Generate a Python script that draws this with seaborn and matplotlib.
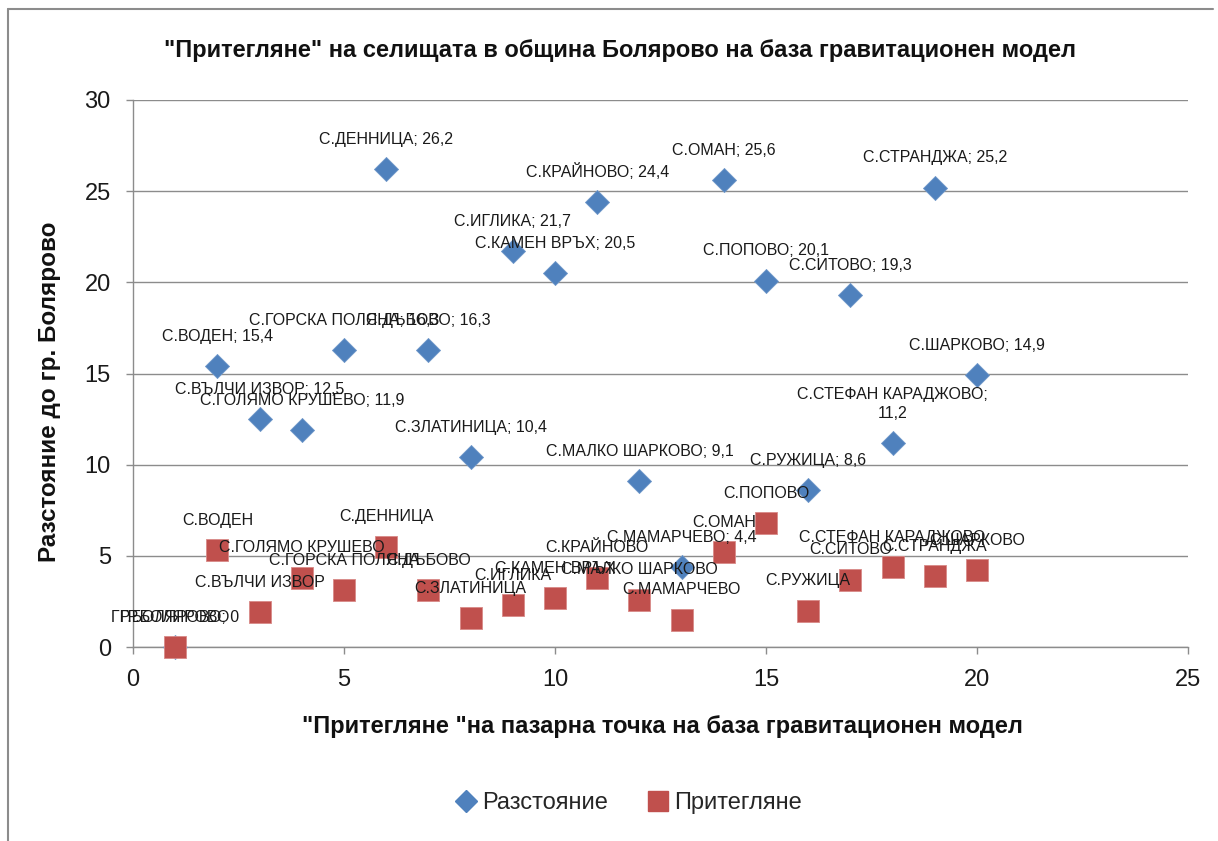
import matplotlib
matplotlib.use("Agg")
import matplotlib.pyplot as plt
import seaborn as sns
import pandas as pd
from matplotlib.lines import Line2D

# ---------------- data ----------------
villages = ["ГР.БОЛЯРОВО", "С.ВОДЕН", "С.ВЪЛЧИ ИЗВОР", "С.ГОЛЯМО КРУШЕВО", "С.ГОРСКА ПОЛЯНА",
            "С.ДЕННИЦА", "С.ДЪБОВО", "С.ЗЛАТИНИЦА", "С.ИГЛИКА", "С.КАМЕН ВРЪХ",
            "С.КРАЙНОВО", "С.МАЛКО ШАРКОВО", "С.МАМАРЧЕВО", "С.ОМАН", "С.ПОПОВО",
            "С.РУЖИЦА", "С.СИТОВО", "С.СТЕФАН КАРАДЖОВО", "С.СТРАНДЖА", "С.ШАРКОВО"]
x_index = [1, 2, 3, 4, 5, 6, 7, 8, 9, 10, 11, 12, 13, 14, 15, 16, 17, 18, 19, 20]
distance = [0, 15.4, 12.5, 11.9, 16.3, 26.2, 16.3, 10.4, 21.7, 20.5,
            24.4, 9.1, 4.4, 25.6, 20.1, 8.6, 19.3, 11.2, 25.2, 14.9]
attraction = [0, 5.3, 1.9, 3.8, 3.1, 5.5, 3.1, 1.6, 2.3, 2.7,
              3.8, 2.6, 1.5, 5.2, 6.8, 2.0, 3.7, 4.4, 3.9, 4.2]
wrapped_labels = ["С.СТЕФАН КАРАДЖОВО"]

series_names = ["Разстояние", "Притегляне"]
title = '"Притегляне" на селищата в община Болярово на база гравитационен модел'
xlabel = '"Притегляне "на пазарна точка на база гравитационен модел'
ylabel = "Разстояние до гр. Болярово"

blue = "#4F81BD"
red = "#C0504D"
grid_c = "#8C8C8C"

sns.set_theme(style="white")
plt.rcParams["font.family"] = ["Liberation Sans", "DejaVu Sans"]

fig = plt.figure(figsize=(12.18, 8.41), dpi=100)
ax = fig.add_axes([133 / 1218, 1 - 647 / 841, (1188 - 133) / 1218, (647 - 100) / 841])

df_d = pd.DataFrame({"x": x_index, "y": distance, "name": villages})
df_a = pd.DataFrame({"x": x_index, "y": attraction, "name": villages})

sns.scatterplot(data=df_d, x="x", y="y", marker="D", s=150, color=blue,
                linewidth=0.6, edgecolor="#6F97C9", ax=ax, clip_on=False, zorder=3)
sns.scatterplot(data=df_a, x="x", y="y", marker="s", s=260, color=red,
                linewidth=0.6, edgecolor="#D98A88", ax=ax, clip_on=False, zorder=4)

def fmt(v):
    return f"{v:g}".replace(".", ",")

lab_fs = 11.5
for xv, yv, nm in zip(x_index, distance, villages):
    sep = ";\n" if nm in wrapped_labels else "; "
    ax.annotate(f"{nm}{sep}{fmt(yv)}", (xv, yv), xytext=(0, 16), textcoords="offset points",
                ha="center", va="bottom", fontsize=lab_fs, color="#1a1a1a", zorder=6,
                annotation_clip=False, linespacing=1.3)
for xv, yv, nm in zip(x_index, attraction, villages):
    ax.annotate(nm, (xv, yv), xytext=(0, 16), textcoords="offset points",
                ha="center", va="bottom", fontsize=lab_fs, color="#1a1a1a", zorder=6,
                annotation_clip=False)

ax.set_xlim(0, 25)
ax.set_ylim(0, 30)
ax.set_xticks([0, 5, 10, 15, 20, 25])
ax.set_yticks([0, 5, 10, 15, 20, 25, 30])
ax.yaxis.grid(True, color=grid_c, linewidth=1.0)
ax.set_axisbelow(True)
for sp in ["top", "right"]:
    ax.spines[sp].set_visible(False)
for sp in ["left", "bottom"]:
    ax.spines[sp].set_color(grid_c)
    ax.spines[sp].set_linewidth(1.0)
ax.tick_params(axis="both", which="major", direction="out", length=5, width=1.0,
               color=grid_c, labelsize=17, labelcolor="#1a1a1a", pad=11,
               bottom=True, left=True)
ax.set_xlabel("")
ax.set_ylabel("")

fig.text(620 / 1218, 1 - 50 / 841, title, ha="center", va="center",
         fontsize=17, fontweight="bold", color="#111111")
fig.text(662 / 1218, 1 - 726 / 841, xlabel, ha="center", va="center",
         fontsize=17, fontweight="bold", color="#111111")
fig.text(50 / 1218, 1 - 392 / 841, ylabel, ha="center", va="center", rotation=90,
         fontsize=17.5, fontweight="bold", color="#111111")

handles = [Line2D([], [], marker="D", linestyle="none", color=blue, markersize=11),
           Line2D([], [], marker="s", linestyle="none", color=red, markersize=14)]
fig.legend(handles, series_names, loc="center", bbox_to_anchor=(628 / 1218, 1 - 803 / 841),
           ncol=2, frameon=False, fontsize=17, handletextpad=0.2, columnspacing=1.6,
           handlelength=1.0)

# chart area border (left and top edges)
fig.add_artist(Line2D([8 / 1218, 8 / 1218], [0, 1 - 9 / 841], transform=fig.transFigure,
                      color="#8C8C8C", linewidth=1.5))
fig.add_artist(Line2D([8 / 1218, 1213 / 1218], [1 - 9 / 841, 1 - 9 / 841],
                      transform=fig.transFigure, color="#8C8C8C", linewidth=1.5))

fig.savefig("out.png", dpi=100, facecolor="white")
